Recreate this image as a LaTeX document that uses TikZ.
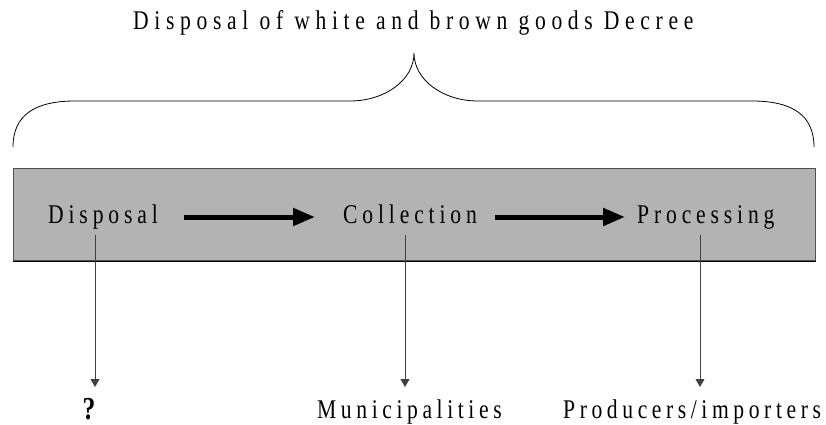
\documentclass[tikz,border=0pt]{standalone}
\usepackage{fontspec}
\setmainfont{Liberation Serif}[FakeStretch=0.8]
\usetikzlibrary{arrows.meta}
\begin{document}
\begin{tikzpicture}[x=1pt,y=-1pt,
  lbl/.style={inner sep=0pt,anchor=base west,
    font=\fontsize{27}{30}\selectfont\addfontfeature{LetterSpace=18}},
  heading/.style={inner sep=0pt,anchor=base west,
    font=\fontsize{27}{30}\selectfont\addfontfeature{LetterSpace=21}},
  party/.style={inner sep=0pt,anchor=base west,
    font=\fontsize{27}{30}\selectfont\addfontfeature{LetterSpace=17}},
  flow/.style={line width=5pt,-{Triangle[length=22pt,width=17pt]}},
  drop/.style={draw=black!75,line width=0.9pt,-{Triangle[length=8pt,width=9pt]}},
  brace/.style={line width=0.8pt}]
\useasboundingbox (0,0) rectangle (826,425);

% title and brace
\node[heading] (title) at (133,30) {Disposal of white and brown goods Decree};
\draw[brace] (13,147) .. controls (13,115) and (35,101) .. (75,101)
  -- (350,101) .. controls (385,101) and (414,80) .. (414,53)
  .. controls (414,80) and (443,101) .. (478,101)
  -- (752,101) .. controls (792,101) and (814,115) .. (814,147);

% grey band holding the three stages
\node[draw={rgb,255:red,80;green,80;blue,80},line width=1.2pt,
  fill={rgb,255:red,179;green,179;blue,179},
  minimum width=802pt,minimum height=92pt,inner sep=0pt,anchor=north west]
  (band) at (13,168) {};
\draw[line width=1.2pt] (band.south west) -- (band.south east);

\node[lbl] (disp) at (48,223) {Disposal};
\node[lbl] (coll) at (343,223) {Collection};
\node[lbl] (proc) at (637,223) {Processing};

\draw[flow] ([xshift=26pt,yshift=6pt]disp.base east) -- ([xshift=-28pt,yshift=6pt]coll.base west);
\draw[flow] ([xshift=18pt,yshift=6pt]coll.base east) -- ([xshift=-12pt,yshift=6pt]proc.base west);

% responsible parties
\node[inner sep=0pt,anchor=base,font=\fontsize{32}{34}\selectfont\bfseries] (who1) at (89,419) {?};
\node[party] (who2) at (317,418) {Municipalities};
\node[party] (who3) at (563,418) {Producers/importers};

\coordinate (d0) at (95,235);
\coordinate (c0) at (405,235);
\coordinate (p0) at (700,235);
\draw[drop] (d0) -- (d0 |- 0,387);
\draw[drop] (c0) -- (c0 |- 0,387);
\draw[drop] (p0) -- (p0 |- 0,387);
\end{tikzpicture}
\end{document}
